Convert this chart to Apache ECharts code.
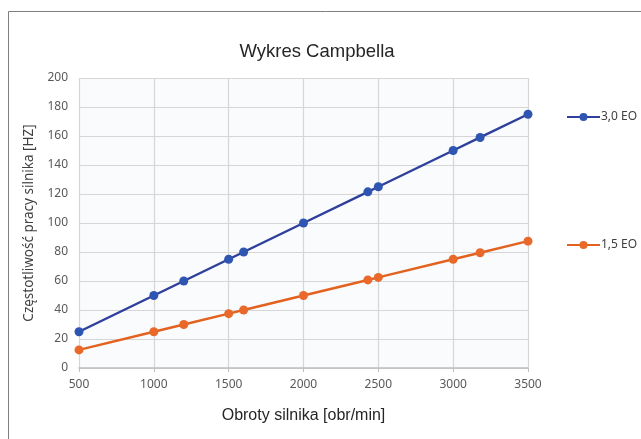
<!DOCTYPE html>
<html>
<head>
<meta charset="utf-8">
<script src="https://cdn.jsdelivr.net/npm/echarts@6/dist/echarts.min.js"></script>
<style>
html,body{margin:0;padding:0;background:#fff;}
#c{width:641px;height:439px;}
</style>
</head>
<body>
<div id="c"></div>
<script>
const titleText = 'Wykres Campbella';
const xAxisName = 'Obroty silnika [obr/min]';
const yAxisName = 'Częstotliwość pracy silnika [HZ]';
const seriesNames = ['3,0 EO', '1,5 EO'];
const rpm = [500, 1000, 1200, 1500, 1600, 2000, 2430, 2500, 3000, 3180, 3500];
const eo30 = [25, 50, 60, 75, 80, 100, 121.5, 125, 150, 159, 175];
const eo15 = [12.5, 25, 30, 37.5, 40, 50, 60.75, 62.5, 75, 79.5, 87.5];

const chart = echarts.init(document.getElementById('c'), null, {renderer: 'canvas'});
const labelFont = {fontFamily: 'Noto Sans', fontSize: 12, color: '#595959'};
chart.setOption({
  backgroundColor: '#ffffff',
  animation: false,
  graphic: [{
    type: 'rect', z: -10,
    shape: {x: 8.5, y: 11.5, width: 660, height: 460},
    style: {fill: 'none', stroke: '#7f7f7f', lineWidth: 1}
  }],
  title: {
    text: titleText, left: 312, top: 37, textAlign: 'center',
    textStyle: {fontFamily: 'Liberation Sans', fontSize: 18.5, fontWeight: 'normal', color: '#262626'}
  },
  legend: [
    {data: [seriesNames[0]], left: 561, top: 106, itemWidth: 33, itemHeight: 10, itemGap: 2,
     textStyle: {fontFamily: 'Noto Sans', fontSize: 12, color: '#404040', padding: [0,0,0,-4]}},
    {data: [seriesNames[1]], left: 561, top: 234, itemWidth: 33, itemHeight: 10, itemGap: 2,
     textStyle: {fontFamily: 'Noto Sans', fontSize: 12, color: '#404040', padding: [0,0,0,-4]}}
  ],
  grid: {left: 79, right: 113, top: 78, bottom: 71, show: true, backgroundColor: '#fafbfd', borderWidth: 0},
  xAxis: {
    type: 'value', min: 500, max: 3500, interval: 500,
    name: xAxisName, nameLocation: 'middle', nameGap: 40,
    nameTextStyle: {fontFamily: 'Liberation Sans', fontSize: 16, color: '#262626'},
    axisLine: {show: true, lineStyle: {color: '#bfbfbf', width: 1.5}},
    axisTick: {show: true, length: 4, lineStyle: {color: '#bfbfbf'}},
    axisLabel: Object.assign({margin: 11, formatter: v => String(v)}, labelFont),
    splitLine: {show: true, lineStyle: {color: '#d6d6d6', width: 1.2}}
  },
  yAxis: {
    type: 'value', min: 0, max: 200, interval: 20,
    name: yAxisName, nameLocation: 'middle', nameGap: 43, nameRotate: 90,
    nameTextStyle: {fontFamily: 'Noto Sans', fontSize: 13.5, color: '#404040'},
    axisLine: {show: false},
    axisTick: {show: false},
    axisLabel: Object.assign({margin: 11}, labelFont),
    splitLine: {show: true, lineStyle: {color: '#d6d6d6', width: 1.2}}
  },
  series: [
    {name: seriesNames[0], type: 'line', data: rpm.map((x, i) => [x, eo30[i]]),
     symbol: 'circle', symbolSize: 9,
     lineStyle: {color: '#2f409c', width: 2.5},
     itemStyle: {color: '#2f55b3'}},
    {name: seriesNames[1], type: 'line', data: rpm.map((x, i) => [x, eo15[i]]),
     symbol: 'circle', symbolSize: 9,
     lineStyle: {color: '#e4621f', width: 2.5},
     itemStyle: {color: '#e8692a'}}
  ]
});
</script>
</body>
</html>
